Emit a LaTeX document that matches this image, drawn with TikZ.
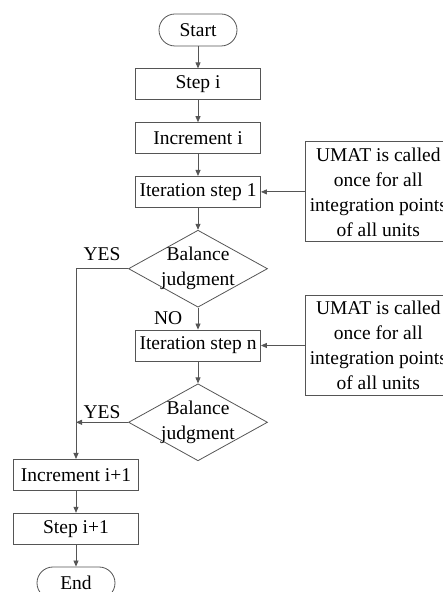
\documentclass[tikz,border=0pt]{standalone}
\usepackage{fontspec}
\setmainfont{Liberation Serif}
\usetikzlibrary{arrows.meta,calc,positioning,shapes.geometric}
\definecolor{linegray}{RGB}{85,85,85}

\begin{document}
\begin{tikzpicture}[
      x=1pt, y=1pt,
      node distance=22pt,
      font=\fontsize{19.5}{25}\selectfont,
      >={Triangle[length=6pt,width=5pt]},
      box/.style={rectangle,draw=linegray,line width=0.8pt,minimum width=125pt,minimum height=31pt,inner sep=2pt},
      term/.style={rectangle,rounded corners=16pt,draw=linegray,line width=0.8pt,minimum width=78pt,minimum height=32pt,inner sep=2pt},
      dec/.style={diamond,aspect=1.8,draw=linegray,line width=0.8pt,minimum width=139pt,minimum height=77pt,inner sep=-8pt,align=center},
      note/.style={rectangle,draw=linegray,line width=0.8pt,minimum width=146pt,minimum height=100pt,inner sep=2pt,align=center},
      flow/.style={->,draw=linegray,line width=0.8pt}
    ]
    \useasboundingbox (0,0) rectangle (442,592);

    % Main column
    \node[term] (start) at (198,562) {Start};
    \node[box,below=of start] (step) {Step i};
    \node[box,below=of step] (inc) {Increment i};
    \node[box,below=of inc] (iter1) {Iteration step 1};
    \node[dec,below=of iter1] (dec1) {Balance\\judgment};
    \node[box,below=of dec1] (itern) {Iteration step n};
    \node[dec,below=of itern] (dec2) {Balance\\judgment};

    % UMAT notes
    \node[note,right=44pt of iter1] (umat1) {UMAT is called\\once for all\\integration points\\of all units};
    \node[note,right=44pt of itern] (umat2) {UMAT is called\\once for all\\integration points\\of all units};

    % Left column
    \node[box,anchor=north] (inc2) at (76,133) {Increment i+1};
    \node[box,below=of inc2] (step2) {Step i+1};
    \node[term,below=of step2] (stop) {End};
    \coordinate (join) at (dec2.west -| inc2.north);

    \draw[flow] (start) -- (step);
    \draw[flow] (step) -- (inc);
    \draw[flow] (inc) -- (iter1);
    \draw[flow] (iter1) -- (dec1);
    \draw[flow] (dec1) -- node[left=12pt]{NO} (itern);
    \draw[flow] (itern) -- (dec2);
    \draw[flow] (umat1) -- (iter1);
    \draw[flow] (umat2) -- (itern);

    \draw[flow] (dec1.west) -- node[above=4pt]{YES} (dec1.west -| inc2.north) -- (inc2.north);
    \draw[flow] (dec2.west) -- node[above]{YES} (join);
    \draw[flow] (inc2) -- (step2);
    \draw[flow] (step2) -- (stop);

  \end{tikzpicture}
\end{document}
